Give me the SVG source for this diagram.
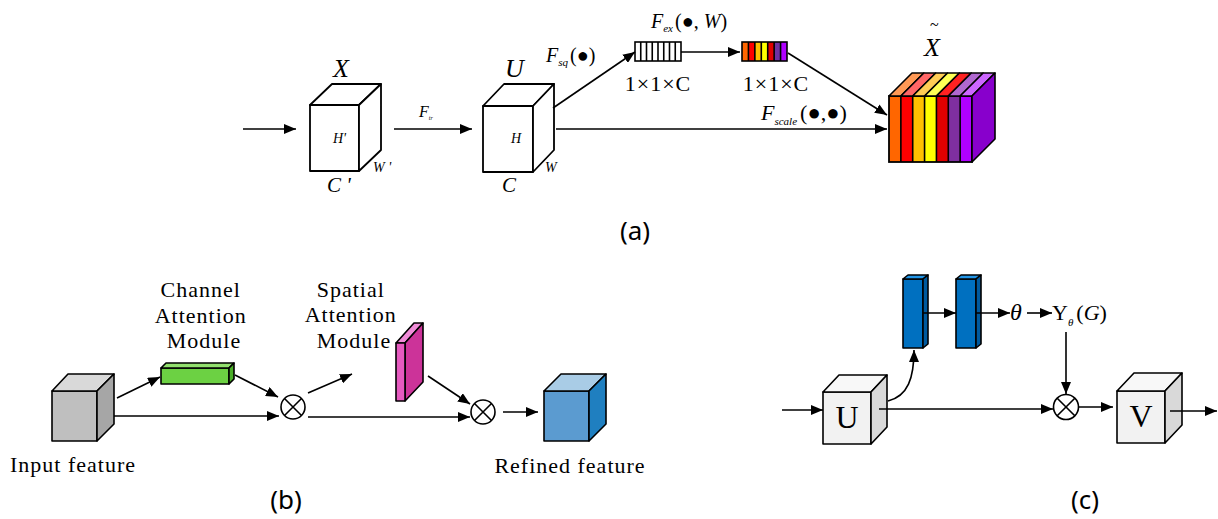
<svg xmlns="http://www.w3.org/2000/svg" width="1218" height="519" viewBox="0 0 1218 519">
  <defs>
    <marker id="ah" viewBox="0 0 12 10" refX="12" refY="5" markerWidth="12" markerHeight="10" markerUnits="userSpaceOnUse" orient="auto">
      <path d="M0,0 L12,5 L0,10 z" fill="#000"/>
    </marker>
    <style>
      .ln { fill: none; stroke: #000; stroke-width: 1.6; }
      .arr { fill: none; stroke: #000; stroke-width: 1.6; marker-end: url(#ah); }
      .edge { stroke: #000; stroke-width: 1.6; stroke-linejoin: round; }
      .wire { fill: #fff; stroke: #000; stroke-width: 1.8; stroke-linejoin: round; }
      .serif { font-family: "Liberation Serif", "Times New Roman", serif; fill: #000; }
      .math { font-family: "Liberation Serif", "Times New Roman", serif; font-style: italic; fill: #000; }
      .lbl { font-family: "Liberation Serif", "Times New Roman", serif; font-size: 22px; letter-spacing: 1px; fill: #000; }
      .cap { font-family: "Noto Sans", "Open Sans", sans-serif; font-size: 26px; fill: #000; text-anchor: middle; }
      .otimes { fill: #fff; stroke: #000; stroke-width: 1.6; }
    </style>
  </defs>

  <!-- ===== (a) squeeze-and-excitation block ===== -->
  <g id="cube-x">
    <rect class="wire" x="310" y="105" width="49" height="66"/>
    <polygon class="wire" points="310,105 332,84 381,84 359,105"/>
    <polygon class="wire" points="359,105 381,84 381,150 359,171"/>
    <text class="math" x="333" y="77" font-size="26">X</text>
    <text class="math" x="333" y="143" font-size="14">H'</text>
    <text class="math" x="327" y="192" font-size="21">C '</text>
    <text class="math" x="373" y="172" font-size="14">W '</text>
  </g>

  <g id="cube-u-a">
    <rect class="wire" x="483" y="106" width="50" height="66"/>
    <polygon class="wire" points="483,106 504,84 554,84 533,106"/>
    <polygon class="wire" points="533,106 554,84 554,150 533,172"/>
    <text class="math" x="505" y="77" font-size="26">U</text>
    <text class="math" x="511" y="143" font-size="14">H</text>
    <text class="math" x="502" y="192" font-size="21">C</text>
    <text class="math" x="545" y="172" font-size="14">W</text>
  </g>

  <g id="vec-squeeze">
    <rect x="635" y="42" width="46" height="19" fill="#fff" stroke="#000" stroke-width="1.6"/>
    <path class="ln" d="M640.75,42V61 M646.5,42V61 M652.25,42V61 M658,42V61 M663.75,42V61 M669.5,42V61 M675.25,42V61"/>
    <text class="lbl" x="658" y="91" text-anchor="middle">1×1×C</text>
  </g>

  <g id="vec-excite">
    <rect x="742" y="42" width="6.43" height="19" fill="#FF6600"/>
    <rect x="748.43" y="42" width="6.43" height="19" fill="#FF0000"/>
    <rect x="754.86" y="42" width="6.43" height="19" fill="#FFC000"/>
    <rect x="761.29" y="42" width="6.43" height="19" fill="#FFFF00"/>
    <rect x="767.71" y="42" width="6.43" height="19" fill="#E00000"/>
    <rect x="774.14" y="42" width="6.43" height="19" fill="#7030A0"/>
    <rect x="780.57" y="42" width="6.43" height="19" fill="#B000FF"/>
    <path class="ln" d="M748.43,42V61 M754.86,42V61 M761.29,42V61 M767.71,42V61 M774.14,42V61 M780.57,42V61"/>
    <rect x="742" y="42" width="45" height="19" fill="none" stroke="#000" stroke-width="1.6"/>
    <text class="lbl" x="776" y="91" text-anchor="middle">1×1×C</text>
  </g>

  <g id="cube-x-tilde">
    <!-- front stripes -->
    <rect x="889" y="96" width="11.86" height="66" fill="#FF6600"/>
    <rect x="900.86" y="96" width="11.86" height="66" fill="#FF0000"/>
    <rect x="912.71" y="96" width="11.86" height="66" fill="#FFC000"/>
    <rect x="924.57" y="96" width="11.86" height="66" fill="#FFFF00"/>
    <rect x="936.43" y="96" width="11.86" height="66" fill="#E00000"/>
    <rect x="948.29" y="96" width="11.86" height="66" fill="#7F2FA0"/>
    <rect x="960.14" y="96" width="11.86" height="66" fill="#B000FF"/>
    <path class="ln" d="M900.86,96V162 M912.71,96V162 M924.57,96V162 M936.43,96V162 M948.29,96V162 M960.14,96V162"/>
    <rect x="889" y="96" width="83" height="66" fill="none" stroke="#000" stroke-width="1.8"/>
    <!-- top stripes -->
    <polygon class="edge" fill="#FF9955" points="889,96 912,73 923.86,73 900.86,96"/>
    <polygon class="edge" fill="#FF6666" points="900.86,96 923.86,73 935.71,73 912.71,96"/>
    <polygon class="edge" fill="#FFCC55" points="912.71,96 935.71,73 947.57,73 924.57,96"/>
    <polygon class="edge" fill="#FFFF55" points="924.57,96 947.57,73 959.43,73 936.43,96"/>
    <polygon class="edge" fill="#FF2222" points="936.43,96 959.43,73 971.29,73 948.29,96"/>
    <polygon class="edge" fill="#B068D0" points="948.29,96 971.29,73 983.14,73 960.14,96"/>
    <polygon class="edge" fill="#CC66FF" points="960.14,96 983.14,73 995,73 972,96"/>
    <!-- right face -->
    <polygon class="edge" fill="#8800CC" points="972,96 995,73 995,139 972,162"/>
    <text class="serif" x="930" y="30" font-size="16">~</text>
    <text class="math" x="924" y="56" font-size="26">X</text>
  </g>

  <g id="connectors-a">
    <line class="arr" x1="243" y1="129" x2="296" y2="129"/>
    <line class="arr" x1="394" y1="129" x2="472" y2="129"/>
    <line class="arr" x1="553" y1="108" x2="635" y2="52"/>
    <line class="arr" x1="681" y1="52" x2="740" y2="52"/>
    <line class="arr" x1="788" y1="53" x2="887" y2="115"/>
    <line class="arr" x1="556" y1="129" x2="887" y2="129"/>
    <text class="math" x="419" y="117" font-size="16">F<tspan font-size="6" dy="3">tr</tspan></text>
    <text class="math" x="546" y="62" font-size="20">F<tspan font-size="11" dy="4">sq</tspan><tspan class="serif" font-style="normal" dy="-4" dx="2">(●)</tspan></text>
    <text class="math" x="651" y="28" font-size="20">F<tspan font-size="11" dy="4">ex</tspan><tspan font-style="normal" dy="-4" dx="2">(●, </tspan><tspan>W</tspan><tspan font-style="normal">)</tspan></text>
    <text class="math" x="761" y="120" font-size="22">F<tspan font-size="11" dy="5">scale</tspan><tspan font-style="normal" dy="-5" dx="3">(●,●)</tspan></text>
  </g>
  <text class="cap" x="635" y="240">(a)</text>

  <!-- ===== (b) channel + spatial attention ===== -->
  <g id="cube-input">
    <rect class="edge" fill="#BFBFBF" x="52" y="391" width="45" height="50"/>
    <polygon class="edge" fill="#D9D9D9" points="52,391 68,374 114,374 97,391"/>
    <polygon class="edge" fill="#A6A6A6" points="97,391 114,374 114,424 97,441"/>
    <text class="lbl" x="73" y="472" text-anchor="middle">Input feature</text>
  </g>

  <g id="channel-attention">
    <rect class="edge" fill="#6CD143" x="161" y="368" width="68" height="16"/>
    <polygon class="edge" fill="#92E06E" points="161,368 166,363 234,363 229,368"/>
    <polygon class="edge" fill="#4AAE28" points="229,368 234,363 234,379 229,384"/>
    <text class="lbl" text-anchor="middle">
      <tspan x="204" y="297">Channel</tspan>
      <tspan x="204" y="323">Attention</tspan>
      <tspan x="204" y="348">Module</tspan>
    </text>
  </g>

  <g id="otimes-b1">
    <circle class="otimes" cx="293" cy="407" r="12"/>
    <path class="ln" d="M284.5,398.5 L301.5,415.5 M301.5,398.5 L284.5,415.5"/>
  </g>

  <g id="spatial-attention">
    <polygon class="edge" fill="#F08CD8" points="396,343 414,323 423,323 405,343"/>
    <polygon class="edge" fill="#CC3399" points="405,343 423,323 423,382 405,401"/>
    <rect class="edge" fill="#E65AC0" x="396" y="343" width="9" height="58"/>
    <text class="lbl" text-anchor="middle">
      <tspan x="354" y="297">Spatial</tspan>
      <tspan x="354" y="322">Attention</tspan>
      <tspan x="354" y="348">Module</tspan>
    </text>
  </g>

  <g id="otimes-b2">
    <circle class="otimes" cx="483" cy="412" r="12"/>
    <path class="ln" d="M474.5,403.5 L491.5,420.5 M491.5,403.5 L474.5,420.5"/>
  </g>

  <g id="cube-refined">
    <rect class="edge" fill="#5B9BD0" x="544" y="391" width="45" height="50"/>
    <polygon class="edge" fill="#A9CCE6" points="544,391 561,374 606,374 589,391"/>
    <polygon class="edge" fill="#1F7FC0" points="589,391 606,374 606,424 589,441"/>
    <text class="lbl" x="570" y="473" text-anchor="middle">Refined feature</text>
  </g>

  <g id="connectors-b">
    <line class="arr" x1="117" y1="398" x2="160" y2="377"/>
    <line class="arr" x1="114" y1="416" x2="279" y2="416"/>
    <line class="arr" x1="235" y1="375" x2="278" y2="397"/>
    <line class="arr" x1="308" y1="393" x2="352" y2="374"/>
    <line class="arr" x1="308" y1="417" x2="470" y2="417"/>
    <line class="arr" x1="428" y1="376" x2="470" y2="404"/>
    <line class="arr" x1="503" y1="412" x2="538" y2="412"/>
  </g>
  <text class="cap" x="286" y="509">(b)</text>

  <!-- ===== (c) gated feature path ===== -->
  <g id="cube-u-c">
    <rect class="edge" fill="#F2F2F2" x="823" y="392" width="48" height="52"/>
    <polygon class="edge" fill="#F8F8F8" points="823,392 839,375 887,375 871,392"/>
    <polygon class="edge" fill="#D9D9D9" points="871,392 887,375 887,427 871,444"/>
    <text class="serif" x="847" y="428" font-size="32" text-anchor="middle">U</text>
  </g>

  <g id="conv-1">
    <rect class="edge" fill="#0070C0" x="903" y="279" width="20" height="69"/>
    <polygon class="edge" fill="#2196E8" points="903,279 908,275 928,275 923,279"/>
    <polygon class="edge" fill="#005A9E" points="923,279 928,275 928,344 923,348"/>
  </g>

  <g id="conv-2">
    <rect class="edge" fill="#0070C0" x="956" y="279" width="20" height="69"/>
    <polygon class="edge" fill="#2196E8" points="956,279 961,275 981,275 976,279"/>
    <polygon class="edge" fill="#005A9E" points="976,279 981,275 981,344 976,348"/>
  </g>

  <g id="gate-labels">
    <text class="math" x="1010" y="320" font-size="24">θ</text>
    <text class="serif" x="1052" y="320" font-size="22">Υ<tspan class="math" font-size="11" dy="6">θ</tspan><tspan dy="-6" dx="3">(</tspan><tspan class="math">G</tspan><tspan>)</tspan></text>
  </g>

  <g id="otimes-c">
    <circle class="otimes" cx="1066" cy="407" r="12.5"/>
    <path class="ln" d="M1057.2,398.2 L1074.8,415.8 M1074.8,398.2 L1057.2,415.8"/>
  </g>

  <g id="cube-v">
    <rect class="edge" fill="#F2F2F2" x="1117" y="391" width="48" height="52"/>
    <polygon class="edge" fill="#F8F8F8" points="1117,391 1134,373 1182,373 1165,391"/>
    <polygon class="edge" fill="#D9D9D9" points="1165,391 1182,373 1182,425 1165,443"/>
    <text class="serif" x="1141" y="427" font-size="32" text-anchor="middle">V</text>
  </g>

  <g id="connectors-c">
    <line class="arr" x1="782" y1="410" x2="823" y2="410"/>
    <path class="arr" d="M888,401 C908,396 914,378 914,350"/>
    <line class="arr" x1="879" y1="409" x2="1053" y2="409"/>
    <line class="arr" x1="923" y1="313" x2="956" y2="313"/>
    <line class="arr" x1="976" y1="313" x2="1010" y2="313"/>
    <line class="arr" x1="1027" y1="313" x2="1052" y2="313"/>
    <line class="arr" x1="1066" y1="332" x2="1066" y2="394"/>
    <line class="arr" x1="1079" y1="407" x2="1113" y2="407"/>
    <line class="arr" x1="1170" y1="411" x2="1217" y2="411"/>
  </g>
  <text class="cap" x="1085" y="509">(c)</text>
</svg>
